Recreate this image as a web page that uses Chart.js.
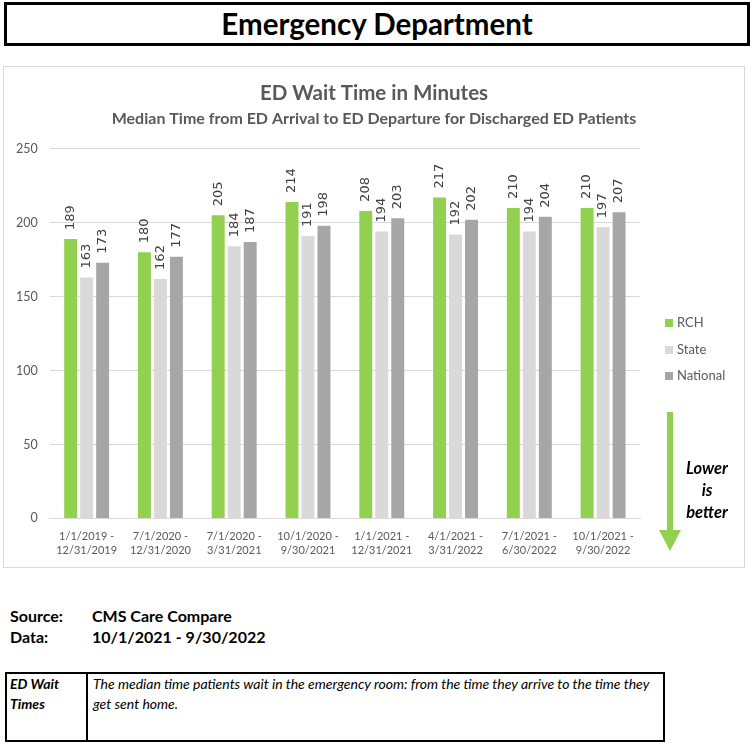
<!DOCTYPE html>
<html>
<head>
<meta charset="utf-8">
<script src="https://cdn.jsdelivr.net/npm/chart.js@4.4.1/dist/chart.umd.min.js"></script>
<style>
  body { margin: 0; background: #fff; font-family: Lato, "Open Sans", sans-serif; width: 756px; height: 755px; position: relative; overflow: hidden; }
  #header { position: absolute; left: 4px; top: 2px; width: 740px; height: 38px; border: 3px solid #000; text-align: center; font-weight: bold; font-size: 29.5px; line-height: 38px; color: #000; }
  #panel { position: absolute; left: 3px; top: 66px; width: 740px; height: 500px; border: 1px solid #d9d9d9; }
  #legend { position: absolute; left: 665px; top: 312px; font-size: 13px; color: #595959; }
  #legend div { height: 26.5px; line-height: 20px; white-space: nowrap; }
  #legend span { display: inline-block; width: 8px; height: 8px; margin-right: 4px; }
  #arrow { position: absolute; left: 655px; top: 410px; }
  #lower { position: absolute; left: 672px; top: 457px; width: 70px; text-align: center; font-weight: bold; font-style: italic; font-size: 16.5px; line-height: 22px; color: #000; }
  .src { position: absolute; font-weight: bold; font-size: 16px; color: #000; }
  #def { position: absolute; left: 5px; top: 672px; width: 656px; height: 66px; border: 2px solid #000; font-style: italic; font-size: 14px; line-height: 20px; }
  #def .c1 { position: absolute; left: 0; top: 0; width: 81px; height: 66px; border-right: 2px solid #000; font-weight: bold; padding-left: 3px; box-sizing: border-box; }
  #def .c2 { position: absolute; left: 86px; top: 0; width: 568px; }
</style>
</head>
<body>
<div id="header">Emergency Department</div>
<div id="panel"><canvas id="edChart" width="740" height="500"></canvas></div>
<div id="legend"></div>
<svg id="arrow" width="30" height="145">
  <rect x="12" y="2" width="6" height="120" fill="#92D050"></rect>
  <polygon points="4,120 26,120 15,141" fill="#92D050"></polygon>
</svg>
<div id="lower">Lower<br>is<br>better</div>
<div class="src" style="left:10px; top:606px;">Source:</div>
<div class="src" style="left:92px; top:606px;">CMS Care Compare</div>
<div class="src" style="left:10px; top:627px;">Data:</div>
<div class="src" style="left:92px; top:627px;">10/1/2021 - 9/30/2022</div>
<div id="def">
  <div class="c1">ED Wait<br>Times</div>
  <div class="c2">The median time patients wait in the emergency room: from the time they arrive to the time they get sent home.</div>
</div>
<script>
const periods = [
  ["1/1/2019 -", "12/31/2019"],
  ["7/1/2020 -", "12/31/2020"],
  ["7/1/2020 -", "3/31/2021"],
  ["10/1/2020 -", "9/30/2021"],
  ["1/1/2021 -", "12/31/2021"],
  ["4/1/2021 -", "3/31/2022"],
  ["7/1/2021 -", "6/30/2022"],
  ["10/1/2021 -", "9/30/2022"]
];
const rch = [189, 180, 205, 214, 208, 217, 210, 210];
const state = [163, 162, 184, 191, 194, 192, 194, 197];
const national = [173, 177, 187, 198, 203, 202, 204, 207];
const yTicks = [0, 50, 100, 150, 200, 250];

// rotated value labels above each bar
const barLabels = {
  id: "barLabels",
  afterDatasetsDraw(chart) {
    const ctx = chart.ctx;
    ctx.save();
    ctx.fillStyle = "#404040";
    ctx.font = "13px 'DejaVu Sans', sans-serif";
    ctx.textAlign = "left";
    ctx.textBaseline = "middle";
    chart.data.datasets.forEach((ds, i) => {
      chart.getDatasetMeta(i).data.forEach((bar, j) => {
        ctx.save();
        ctx.translate(bar.x, bar.y - 9);
        ctx.rotate(-Math.PI / 2);
        ctx.fillText(ds.data[j], 0, 0);
        ctx.restore();
      });
    });
    ctx.restore();
  }
};

const chart = new Chart(document.getElementById("edChart"), {
  type: "bar",
  data: {
    labels: periods,
    datasets: [
      { label: "RCH", data: rch, backgroundColor: "#92D050" },
      { label: "State", data: state, backgroundColor: "#D9D9D9" },
      { label: "National", data: national, backgroundColor: "#A6A6A6" }
    ]
  },
  options: {
    responsive: false,
    animation: false,
    layout: { padding: { left: 0, right: 0, top: 0, bottom: 6 } },
    datasets: { bar: { categoryPercentage: 0.65, barPercentage: 0.81 } },
    plugins: {
      title: {
        display: true,
        text: "ED Wait Time in Minutes",
        color: "#595959",
        font: { family: "Lato", size: 20.5, weight: "bold" },
        padding: { top: 14, bottom: 4 }
      },
      subtitle: {
        display: true,
        text: "Median Time from ED Arrival to ED Departure for Discharged ED Patients",
        color: "#595959",
        font: { family: "Lato", size: 16, weight: "bold" },
        padding: { bottom: 20 }
      },
      legend: { display: false },
      tooltip: { enabled: false }
    },
    scales: {
      x: {
        grid: { display: false },
        border: { color: "#d9d9d9" },
        ticks: { color: "#595959", font: { family: "Lato", size: 11, lineHeight: 1.3 }, maxRotation: 0, autoSkip: false }
      },
      y: {
        min: 0,
        max: 250,
        afterBuildTicks: axis => { axis.ticks = yTicks.map(v => ({ value: v })); },
        grid: { color: "#d9d9d9", drawTicks: false },
        border: { display: false },
        ticks: { color: "#595959", font: { family: "Lato", size: 12.5 }, padding: 12 }
      },
      // empty right-hand axis that keeps room for the legend and arrow
      side: {
        position: "right",
        grid: { display: false },
        border: { display: false },
        ticks: { display: false },
        afterFit: axis => { axis.width = 104; }
      }
    }
  },
  plugins: [barLabels]
});

// legend built from the chart's datasets
const legend = document.getElementById("legend");
chart.data.datasets.forEach(ds => {
  const row = document.createElement("div");
  row.innerHTML = `<span style="background:${ds.backgroundColor}"></span>${ds.label}`;
  legend.appendChild(row);
});
</script>
</body>
</html>
